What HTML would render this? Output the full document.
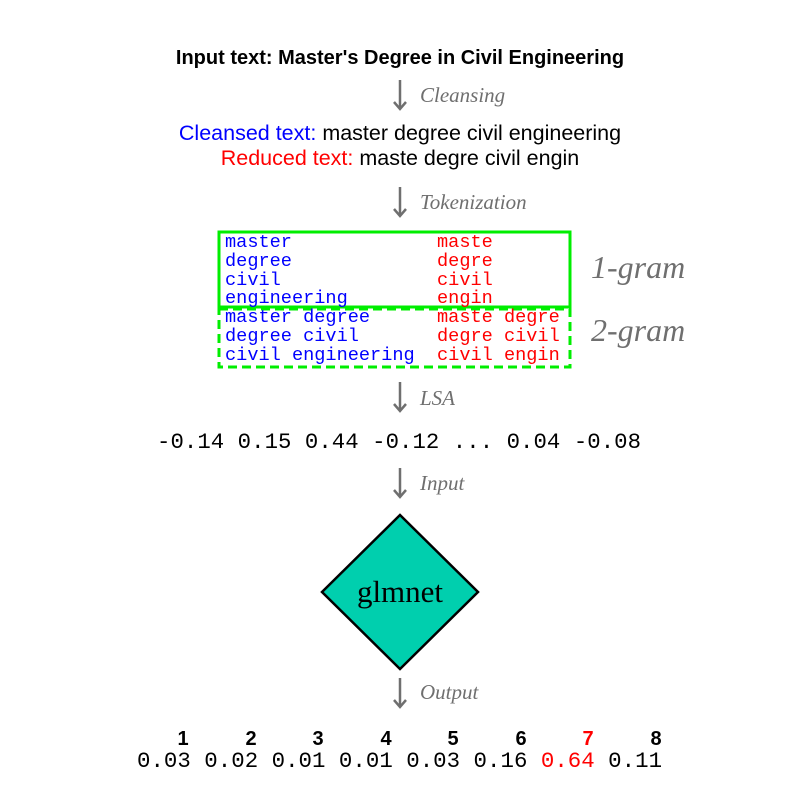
<!DOCTYPE html>
<html><head><meta charset="utf-8"><style>
html,body{margin:0;padding:0;background:#fff}
svg text{font-family:"Liberation Sans",sans-serif}
.mono{font-family:"Liberation Mono",monospace}
.lab{font-family:"Liberation Serif",serif;font-style:italic;fill:#6f6f6f;font-size:21px}
</style></head><body>
<svg width="800" height="800" viewBox="0 0 800 800">
<text x="400" y="64" text-anchor="middle" font-weight="bold" font-size="20">Input text: Master's Degree in Civil Engineering</text>
<g><line x1="400" y1="80" x2="400" y2="109" stroke="#6f6f6f" stroke-width="2.5"/><path d="M394,102 L400,109 L406,102" fill="none" stroke="#6f6f6f" stroke-width="2.5"/><text class="lab" x="420" y="102">Cleansing</text></g>
<text x="400" y="140" text-anchor="middle" font-size="21.5"><tspan fill="#0000ff">Cleansed text:</tspan> master degree civil engineering</text>
<text x="400" y="165" text-anchor="middle" font-size="21.5"><tspan fill="#ff0000">Reduced text:</tspan> maste degre civil engin</text>
<g><line x1="400" y1="187" x2="400" y2="216" stroke="#6f6f6f" stroke-width="2.5"/><path d="M394,209 L400,216 L406,209" fill="none" stroke="#6f6f6f" stroke-width="2.5"/><text class="lab" x="420" y="209">Tokenization</text></g>
<rect x="219" y="232" width="351" height="75" fill="none" stroke="#00ee00" stroke-width="3"/>
<rect x="219" y="309" width="351" height="58" fill="none" stroke="#00ee00" stroke-width="3" stroke-dasharray="9,5"/>
<g class="mono" font-size="18.6">
<text x="225" y="247" fill="#0000ff" class="mono">master</text><text x="437" y="247" fill="#ff0000" class="mono">maste</text>
<text x="225" y="266" fill="#0000ff" class="mono">degree</text><text x="437" y="266" fill="#ff0000" class="mono">degre</text>
<text x="225" y="285" fill="#0000ff" class="mono">civil</text><text x="437" y="285" fill="#ff0000" class="mono">civil</text>
<text x="225" y="303" fill="#0000ff" class="mono">engineering</text><text x="437" y="303" fill="#ff0000" class="mono">engin</text>
<text x="225" y="322" fill="#0000ff" class="mono">master degree</text><text x="437" y="322" fill="#ff0000" class="mono">maste degre</text>
<text x="225" y="341" fill="#0000ff" class="mono">degree civil</text><text x="437" y="341" fill="#ff0000" class="mono">degre civil</text>
<text x="225" y="360" fill="#0000ff" class="mono">civil engineering</text><text x="437" y="360" fill="#ff0000" class="mono">civil engin</text>
</g>
<text class="lab" x="591" y="278" style="font-size:32px">1-gram</text>
<text class="lab" x="591" y="341" style="font-size:32px">2-gram</text>
<g><line x1="400" y1="382" x2="400" y2="411" stroke="#6f6f6f" stroke-width="2.5"/><path d="M394,404 L400,411 L406,404" fill="none" stroke="#6f6f6f" stroke-width="2.5"/><text class="lab" x="420" y="405">LSA</text></g>
<text class="mono" x="157" y="448" font-size="22.3" textLength="484">-0.14 0.15 0.44 -0.12 ... 0.04 -0.08</text>
<g><line x1="400" y1="468" x2="400" y2="497" stroke="#6f6f6f" stroke-width="2.5"/><path d="M394,490 L400,497 L406,490" fill="none" stroke="#6f6f6f" stroke-width="2.5"/><text class="lab" x="420" y="490">Input</text></g>
<polygon points="400,515 478,592 400,669 322,592" fill="#00cfae" stroke="#000" stroke-width="2.5"/>
<text x="400" y="602" text-anchor="middle" font-size="31" style="font-family:'Liberation Serif',serif">glmnet</text>
<g><line x1="400" y1="678" x2="400" y2="707" stroke="#6f6f6f" stroke-width="2.5"/><path d="M394,700 L400,707 L406,700" fill="none" stroke="#6f6f6f" stroke-width="2.5"/><text class="lab" x="420" y="699">Output</text></g>
<g font-weight="bold" font-size="20">
<text x="183" y="745" text-anchor="middle">1</text><text x="251" y="745" text-anchor="middle">2</text><text x="318" y="745" text-anchor="middle">3</text><text x="386" y="745" text-anchor="middle">4</text><text x="453" y="745" text-anchor="middle">5</text><text x="521" y="745" text-anchor="middle">6</text><text x="588" y="745" text-anchor="middle" fill="#ff0000">7</text><text x="656" y="745" text-anchor="middle">8</text>
</g>
<text class="mono" x="137" y="767" font-size="22.4" textLength="525">0.03 0.02 0.01 0.01 0.03 0.16 <tspan fill="#ff0000">0.64</tspan> 0.11</text>
</svg>
</body></html>
